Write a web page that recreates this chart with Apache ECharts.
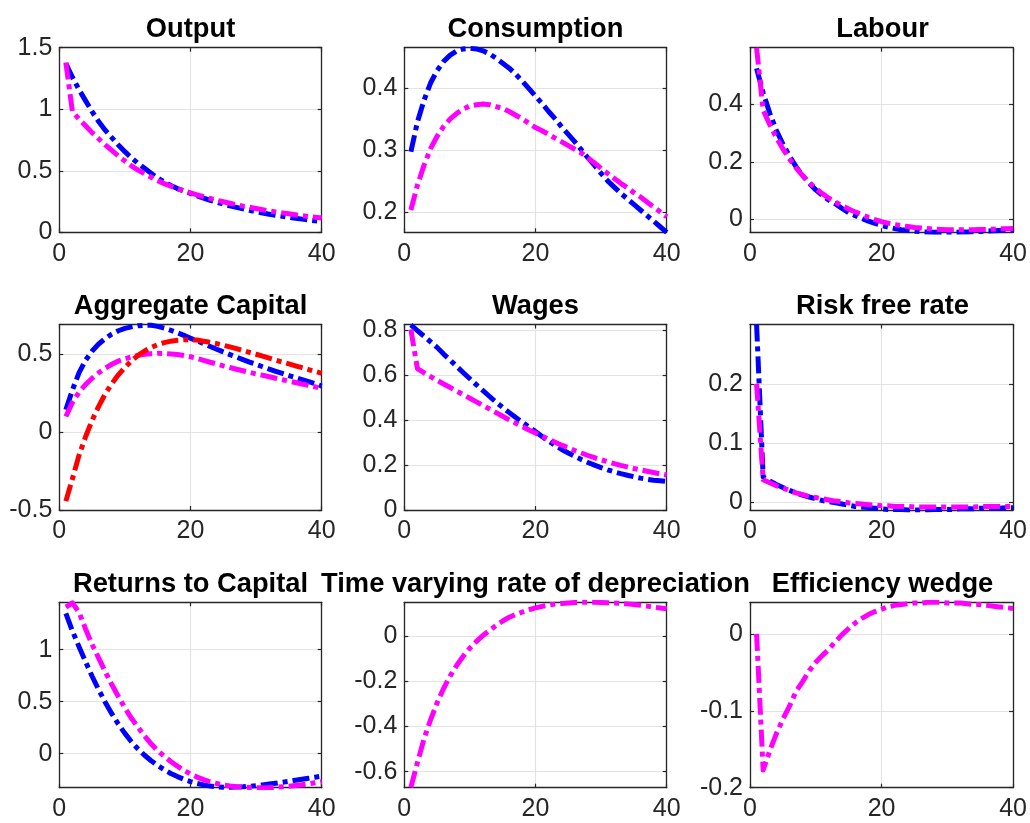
<!DOCTYPE html>
<html>
<head>
<meta charset="utf-8">
<script src="https://cdn.jsdelivr.net/npm/echarts@6/dist/echarts.min.js"></script>
<style>
  html, body { margin: 0; padding: 0; background: #ffffff; }
  #chart { width: 1030px; height: 823px; }
</style>
</head>
<body>
<div id="chart"></div>
<script>
// ---------- DATA ----------
const periods = [1,2,3,4,5,6,7,8,9,10,11,12,13,14,15,16,17,18,19,20,21,22,23,24,25,26,27,28,29,30,31,32,33,34,35,36,37,38,39,40];

const titles = ["Output", "Consumption", "Labour", "Aggregate Capital", "Wages", "Risk free rate",
                "Returns to Capital", "Time varying rate of depreciation", "Efficiency wedge"];

const xTicks = [0, 20, 40];

const yTicks = [
  [0, 0.5, 1, 1.5],
  [0.2, 0.3, 0.4],
  [0, 0.2, 0.4],
  [-0.5, 0, 0.5],
  [0, 0.2, 0.4, 0.6, 0.8],
  [0, 0.1, 0.2],
  [0, 0.5, 1],
  [-0.6, -0.4, -0.2, 0],
  [-0.2, -0.1, 0]
];

const yLimits = [
  [0, 1.5],
  [0.167, 0.465],
  [-0.046, 0.598],
  [-0.5, 0.69],
  [0, 0.827],
  [-0.013, 0.3],
  [-0.327, 1.456],
  [-0.671, 0.151],
  [-0.2, 0.041]
];

// Output
const outputBlue = [1.37,1.26,1.16,1.07,0.98,0.90,0.83,0.77,0.71,0.655,0.605,0.56,0.52,0.48,0.44,0.41,0.38,0.355,0.335,0.315,0.295,0.277,0.26,0.244,0.229,0.215,0.202,0.19,0.178,0.167,0.157,0.147,0.138,0.13,0.122,0.114,0.107,0.10,0.094,0.088];
const outputMagenta = [1.38,0.98,0.92,0.865,0.81,0.76,0.71,0.665,0.62,0.58,0.54,0.505,0.475,0.447,0.42,0.395,0.375,0.355,0.337,0.32,0.304,0.289,0.275,0.261,0.248,0.236,0.224,0.213,0.203,0.193,0.183,0.174,0.166,0.158,0.15,0.142,0.135,0.128,0.122,0.116];

// Consumption
const consBlue = [0.297,0.345,0.38,0.408,0.428,0.443,0.453,0.46,0.463,0.464,0.463,0.46,0.455,0.448,0.44,0.432,0.422,0.411,0.399,0.387,0.375,0.362,0.35,0.337,0.325,0.313,0.30,0.287,0.275,0.262,0.25,0.24,0.23,0.221,0.212,0.203,0.194,0.185,0.176,0.167];
const consMagenta = [0.203,0.243,0.275,0.302,0.322,0.338,0.35,0.359,0.366,0.371,0.373,0.374,0.373,0.37,0.367,0.362,0.356,0.35,0.343,0.336,0.331,0.325,0.319,0.313,0.307,0.301,0.295,0.287,0.279,0.27,0.262,0.254,0.246,0.239,0.231,0.224,0.216,0.208,0.20,0.192];

// Labour
const labourBlue = [0.526,0.44,0.37,0.31,0.262,0.22,0.183,0.152,0.125,0.102,0.083,0.066,0.053,0.037,0.022,0.012,0.002,-0.007,-0.015,-0.022,-0.028,-0.033,-0.037,-0.04,-0.042,-0.044,-0.045,-0.046,-0.046,-0.046,-0.046,-0.045,-0.045,-0.044,-0.043,-0.042,-0.041,-0.04,-0.039,-0.038];
const labourMagenta = [0.598,0.38,0.33,0.285,0.245,0.21,0.179,0.152,0.128,0.107,0.089,0.073,0.059,0.047,0.035,0.025,0.016,0.006,-0.002,-0.009,-0.014,-0.019,-0.023,-0.026,-0.029,-0.031,-0.033,-0.035,-0.036,-0.037,-0.037,-0.037,-0.037,-0.037,-0.036,-0.036,-0.035,-0.034,-0.034,-0.033];

// Aggregate Capital
const capBlue = [0.143,0.27,0.38,0.46,0.52,0.565,0.60,0.628,0.65,0.665,0.675,0.682,0.685,0.685,0.678,0.667,0.653,0.637,0.62,0.602,0.585,0.567,0.549,0.531,0.514,0.497,0.481,0.465,0.449,0.434,0.419,0.404,0.39,0.376,0.362,0.349,0.336,0.323,0.311,0.295];
const capMagenta = [0.10,0.19,0.255,0.305,0.345,0.38,0.41,0.435,0.455,0.47,0.482,0.492,0.499,0.503,0.505,0.504,0.501,0.497,0.491,0.483,0.472,0.46,0.448,0.437,0.425,0.414,0.403,0.393,0.383,0.373,0.364,0.355,0.345,0.336,0.327,0.318,0.308,0.299,0.29,0.28];
const capRed = [-0.443,-0.30,-0.15,-0.03,0.075,0.165,0.245,0.31,0.367,0.415,0.457,0.492,0.52,0.543,0.561,0.574,0.583,0.589,0.592,0.592,0.59,0.583,0.576,0.567,0.557,0.546,0.535,0.523,0.511,0.499,0.487,0.474,0.462,0.449,0.437,0.425,0.413,0.401,0.389,0.377];

// Wages
const wagesBlue = [0.825,0.80,0.775,0.75,0.725,0.695,0.668,0.64,0.612,0.585,0.558,0.532,0.506,0.481,0.457,0.434,0.412,0.391,0.37,0.35,0.328,0.307,0.288,0.27,0.254,0.239,0.225,0.212,0.20,0.189,0.179,0.17,0.162,0.155,0.148,0.142,0.137,0.133,0.13,0.127];
const wagesMagenta = [0.805,0.63,0.612,0.595,0.578,0.562,0.546,0.53,0.514,0.498,0.482,0.466,0.45,0.434,0.418,0.402,0.387,0.372,0.357,0.343,0.329,0.315,0.302,0.289,0.277,0.265,0.254,0.243,0.233,0.224,0.215,0.207,0.199,0.192,0.185,0.179,0.173,0.167,0.161,0.156];

// Risk free rate
const rfBlue = [0.30,0.043,0.036,0.03,0.025,0.02,0.016,0.012,0.009,0.006,0.003,0.001,-0.001,-0.003,-0.005,-0.007,-0.008,-0.009,-0.01,-0.011,-0.012,-0.012,-0.012,-0.013,-0.013,-0.013,-0.013,-0.012,-0.012,-0.012,-0.012,-0.011,-0.011,-0.011,-0.01,-0.01,-0.01,-0.01,-0.009,-0.009];
const rfMagenta = [0.20,0.038,0.033,0.028,0.024,0.02,0.016,0.013,0.01,0.008,0.006,0.004,0.002,0.001,-0.001,-0.002,-0.003,-0.004,-0.005,-0.006,-0.006,-0.007,-0.007,-0.007,-0.008,-0.008,-0.008,-0.008,-0.008,-0.008,-0.008,-0.008,-0.008,-0.008,-0.007,-0.007,-0.007,-0.007,-0.007,-0.007];

// Returns to Capital
const retBlue = [1.35,1.18,1.03,0.885,0.745,0.615,0.495,0.385,0.285,0.195,0.115,0.045,-0.015,-0.068,-0.114,-0.155,-0.19,-0.22,-0.246,-0.268,-0.286,-0.30,-0.311,-0.318,-0.322,-0.323,-0.321,-0.318,-0.313,-0.307,-0.30,-0.292,-0.284,-0.275,-0.266,-0.256,-0.246,-0.236,-0.226,-0.215];
const retMagenta = [1.41,1.45,1.36,1.20,1.05,0.92,0.79,0.665,0.55,0.44,0.34,0.255,0.17,0.095,0.03,-0.025,-0.075,-0.12,-0.16,-0.195,-0.225,-0.25,-0.27,-0.287,-0.30,-0.31,-0.317,-0.322,-0.325,-0.327,-0.327,-0.326,-0.323,-0.319,-0.313,-0.306,-0.298,-0.29,-0.28,-0.27];

// Time varying rate of depreciation
const deprMagenta = [-0.67,-0.56,-0.455,-0.37,-0.295,-0.23,-0.175,-0.128,-0.087,-0.052,-0.022,0.004,0.027,0.048,0.068,0.085,0.097,0.108,0.118,0.126,0.133,0.139,0.143,0.146,0.148,0.15,0.151,0.151,0.151,0.15,0.149,0.148,0.146,0.144,0.141,0.138,0.134,0.13,0.126,0.122];

// Efficiency wedge
const wedgeMagenta = [0,-0.177,-0.152,-0.13,-0.111,-0.094,-0.075,-0.062,-0.048,-0.037,-0.028,-0.02,-0.01,-0.001,0.007,0.014,0.02,0.025,0.029,0.032,0.035,0.037,0.038,0.039,0.04,0.04,0.041,0.041,0.041,0.04,0.04,0.04,0.039,0.038,0.038,0.037,0.036,0.035,0.034,0.033];

const panelSeries = [
  [["blue", outputBlue], ["magenta", outputMagenta]],
  [["blue", consBlue], ["magenta", consMagenta]],
  [["blue", labourBlue], ["magenta", labourMagenta]],
  [["blue", capBlue], ["magenta", capMagenta], ["red", capRed]],
  [["blue", wagesBlue], ["magenta", wagesMagenta]],
  [["blue", rfBlue], ["magenta", rfMagenta]],
  [["blue", retBlue], ["magenta", retMagenta]],
  [["magenta", deprMagenta]],
  [["magenta", wedgeMagenta]]
];

// ---------- LAYOUT / STYLE ----------
const colors = { blue: "#0000ff", magenta: "#ff00ff", red: "#ff0000" };
const colLeft = [59.3, 404.3, 750];
const colWidth = [262.4, 262.4, 265];
const rowTop = [47.7, 324.5, 602.3];
const rowHeight = [184.6, 185.5, 185.4];
const titleTop = [16, 293, 571];
const FONT = "'Liberation Sans', Arial, Helvetica, sans-serif";
const AX = "#262626";
const GRIDC = "#e3e3e3";

const fmt = v => String(parseFloat(Number(v).toFixed(4)));

const grid = [], xAxis = [], yAxis = [], series = [], title = [];

for (let i = 0; i < 9; i++) {
  const r = Math.floor(i / 3), c = i % 3;
  grid.push({ left: colLeft[c], top: rowTop[r], width: colWidth[c], height: rowHeight[r], containLabel: false });
  title.push({
    text: titles[i], left: colLeft[c] + colWidth[c] / 2, top: titleTop[r], textAlign: "center", padding: 0,
    textStyle: { fontFamily: FONT, fontSize: 27.3, fontWeight: "bold", color: "#000" }
  });
  // bottom x
  xAxis.push({
    gridIndex: i, type: "value", min: xTicks[0], max: xTicks[xTicks.length - 1], interval: 20, position: "bottom",
    axisLine: { show: true, onZero: false, lineStyle: { color: AX, width: 1.3 } },
    axisTick: { show: true, inside: true, length: 4, lineStyle: { color: AX, width: 1.2 } },
    axisLabel: { show: true, margin: 9, fontFamily: FONT, fontSize: 25, color: AX, formatter: fmt },
    splitLine: { show: true, lineStyle: { color: GRIDC, width: 1.2 } }
  });
  // top x (box)
  xAxis.push({
    gridIndex: i, type: "value", min: xTicks[0], max: xTicks[xTicks.length - 1], interval: 20, position: "top",
    axisLine: { show: true, onZero: false, lineStyle: { color: AX, width: 1.3 } },
    axisTick: { show: true, inside: true, length: 4, lineStyle: { color: AX, width: 1.2 } },
    axisLabel: { show: false }, splitLine: { show: false }
  });
  const [ymin, ymax] = yLimits[i];
  yAxis.push({
    gridIndex: i, type: "value", min: ymin, max: ymax, position: "left",
    axisLine: { show: true, onZero: false, lineStyle: { color: AX, width: 1.3 } },
    axisTick: { show: true, inside: true, length: 4, customValues: yTicks[i], lineStyle: { color: AX, width: 1.2 } },
    axisLabel: { show: true, margin: 7, customValues: yTicks[i], fontFamily: FONT, fontSize: 25, color: AX, formatter: fmt, showMinLabel: true, showMaxLabel: true },
    splitLine: { show: true, lineStyle: { color: GRIDC, width: 1.2 } }
  });
  yAxis.push({
    gridIndex: i, type: "value", min: ymin, max: ymax, position: "right",
    axisLine: { show: true, onZero: false, lineStyle: { color: AX, width: 1.3 } },
    axisTick: { show: true, inside: true, length: 4, customValues: yTicks[i], lineStyle: { color: AX, width: 1.2 } },
    axisLabel: { show: false }, splitLine: { show: false }
  });
  panelSeries[i].forEach(([col, arr]) => {
    series.push({
      type: "line", xAxisIndex: 2 * i, yAxisIndex: 2 * i,
      data: periods.map((p, k) => [p, arr[k]]),
      symbol: "none", silent: true, clip: true,
      lineStyle: { color: colors[col], width: 5, type: [17, 5, 5, 5], cap: "butt", join: "round" }
    });
  });
}

const chart = echarts.init(document.getElementById("chart"), null, { renderer: "canvas" });
chart.setOption({ animation: false, backgroundColor: "#ffffff", title, grid, xAxis, yAxis, series });
</script>
</body>
</html>
